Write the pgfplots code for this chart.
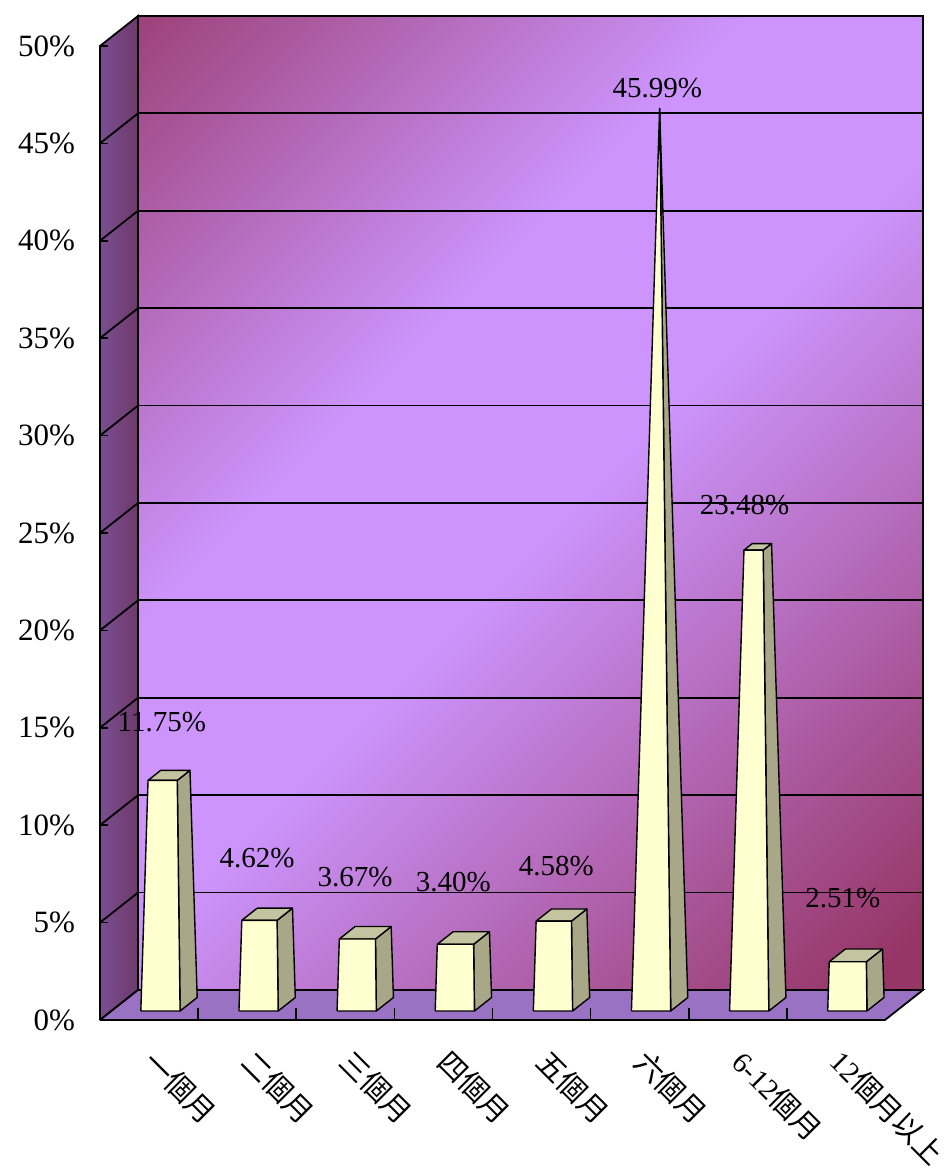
\documentclass[border=0pt]{standalone}
\usepackage{fontspec}
\setmainfont{Liberation Serif}
\newfontfamily\cjk{Noto Sans CJK TC}
\usepackage{pgfplots}
\usepackage{pgfplotstable}
\pgfplotsset{compat=1.18}

\definecolor{wallDark}{HTML}{963666}
\definecolor{wallLight}{HTML}{CC94FC}
\definecolor{sideA}{HTML}{7A4E92}
\definecolor{sideB}{HTML}{6E3A6A}
\definecolor{floorC}{HTML}{9A72C4}
\definecolor{barFront}{HTML}{FFFFD0}
\definecolor{barSide}{HTML}{A8A888}
\definecolor{barTop}{HTML}{C4C4A0}

\pgfdeclareverticalshading{backwall}{100bp}{color(0bp)=(wallDark); color(17bp)=(wallDark); color(48bp)=(wallLight); color(61bp)=(wallLight); color(89bp)=(wallDark); color(100bp)=(wallDark)}

% x = category, val = share in %, lx/ly = where the value label sits
\pgfplotstableread{
x val lx ly
0 11.75 0.13 15.30
1 4.62 1.10 8.32
2 3.67 2.10 7.34
3 3.40 3.10 7.08
4 4.58 4.15 7.90
5 45.99 5.18 47.84
6 23.48 6.07 26.44
7 2.51 7.07 6.26
}\bars

\pgfplotsset{
  barside/.style={forget plot, draw=black, line width=0.7pt, line join=round, fill=barSide},
  bartop/.style={forget plot, draw=black, line width=0.7pt, line join=round, fill=barTop},
  barfront/.style={forget plot, draw=black, line width=0.7pt, line join=round, fill=barFront},
}

\begin{document}
\begin{tikzpicture}
\useasboundingbox (-50pt,-76.5pt) rectangle (426pt,510pt);

% back wall
\begin{axis}[
  at={(19pt,15pt)}, anchor=south west,
  scale only axis, width=392.5pt, height=487pt,
  xmin=0, xmax=1, ymin=0, ymax=50,
  xtick=\empty, ytick={5,10,...,45}, yticklabels={},
  major tick length=0pt,
  ymajorgrids, grid style={black, line width=0.9pt},
  axis line style={black, line width=0.9pt},
  axis background/.style={shade, shading=backwall, shading angle=45},
]
\end{axis}

% front plane
\begin{axis}[
  at={(0pt,0pt)}, anchor=south west,
  scale only axis, width=392.5pt, height=487pt,
  xmin=-0.5, xmax=7.5, ymin=0, ymax=50,
  clip=false, axis on top,
  axis x line*=bottom, axis y line*=left,
  axis line style={black, line width=0.9pt},
  tick align=inside, major tick length=4pt, minor tick length=6pt,
  tick style={black, line width=0.8pt},
  xtick={0,...,7},
  xticklabels={一個月,二個月,三個月,四個月,五個月,六個月,{\rmfamily 6-12}個月,{\rmfamily 12}個月以上},
  minor xtick={0.5,1.5,...,6.5},
  major x tick style={draw=none},
  ytick={0,5,...,50},
  yticklabel={\pgfmathprintnumber{\tick}\%},
  /pgf/number format/assume math mode=true,
  yticklabel style={font=\fontsize{15.5}{18}\selectfont, xshift=-9pt},
  xticklabel style={font=\cjk\fontsize{14.5}{17}\selectfont, inner sep=0pt, xshift=0pt, yshift=-18pt, rotate=-45, anchor=west},
]
% side wall
\addplot[forget plot, draw=black, line width=0.9pt, left color=sideA, right color=sideB]
  coordinates {(-0.5,0) (-0.1127,1.54) (-0.1127,51.54) (-0.5,50) (-0.5,0)};
% floor
\addplot[forget plot, draw=black, line width=0.9pt, fill=floorC]
  coordinates {(-0.5,0) (7.5,0) (7.8873,1.54) (-0.1127,1.54) (-0.5,0)};
\pgfplotsinvokeforeach{5,10,...,45}{
  \draw[black, line width=0.9pt] (axis cs:-0.5,#1) -- (axis cs:-0.1127,{#1+1.54});
}

% truncated pyramids, apex at the largest value
\pgfplotsforeachungrouped \r in {0,...,7}{%
  \pgfplotstablegetelem{\r}{x}\of\bars \let\bx\pgfplotsretval
  \pgfplotstablegetelem{\r}{val}\of\bars \let\bv\pgfplotsretval
  \pgfmathsetmacro\bk{1-\bv/45.99}
  \pgfmathsetmacro\hw{0.2*\bk}
  \pgfmathsetmacro\zf{0.525-0.225*\bk}
  \pgfmathsetmacro\zb{0.525+0.225*\bk}
  \pgfmathsetmacro\xA{\bx-0.2+0.3*0.3873}
  \pgfmathsetmacro\xB{\bx+0.2+0.3*0.3873}
  \pgfmathsetmacro\yAB{0.3*1.54}
  \pgfmathsetmacro\xC{\bx+\hw+\zf*0.3873}
  \pgfmathsetmacro\xD{\bx-\hw+\zf*0.3873}
  \pgfmathsetmacro\yCD{\bv+\zf*1.54}
  \pgfmathsetmacro\xE{\bx+0.2+0.75*0.3873}
  \pgfmathsetmacro\yE{0.75*1.54}
  \pgfmathsetmacro\xF{\bx+\hw+\zb*0.3873}
  \pgfmathsetmacro\xG{\bx-\hw+\zb*0.3873}
  \pgfmathsetmacro\yFG{\bv+\zb*1.54}
  \edef\tmp{%
    \noexpand\addplot[barside] coordinates {(\xB,\yAB) (\xE,\yE) (\xF,\yFG) (\xC,\yCD) (\xB,\yAB)};
    \noexpand\addplot[bartop] coordinates {(\xD,\yCD) (\xC,\yCD) (\xF,\yFG) (\xG,\yFG) (\xD,\yCD)};
    \noexpand\addplot[barfront] coordinates {(\xA,\yAB) (\xB,\yAB) (\xC,\yCD) (\xD,\yCD) (\xA,\yAB)};
  }\tmp
}

% value labels
\addplot[forget plot, draw=none, mark=none, point meta=explicit,
  nodes near coords={\pgfmathprintnumber[fixed,fixed zerofill,precision=2]{\pgfplotspointmeta}\%},
  every node near coord/.append style={anchor=center, black, font=\fontsize{14.5}{17}\selectfont}]
  table[x=lx, y=ly, meta=val]{\bars};
\end{axis}
\end{tikzpicture}
\end{document}
